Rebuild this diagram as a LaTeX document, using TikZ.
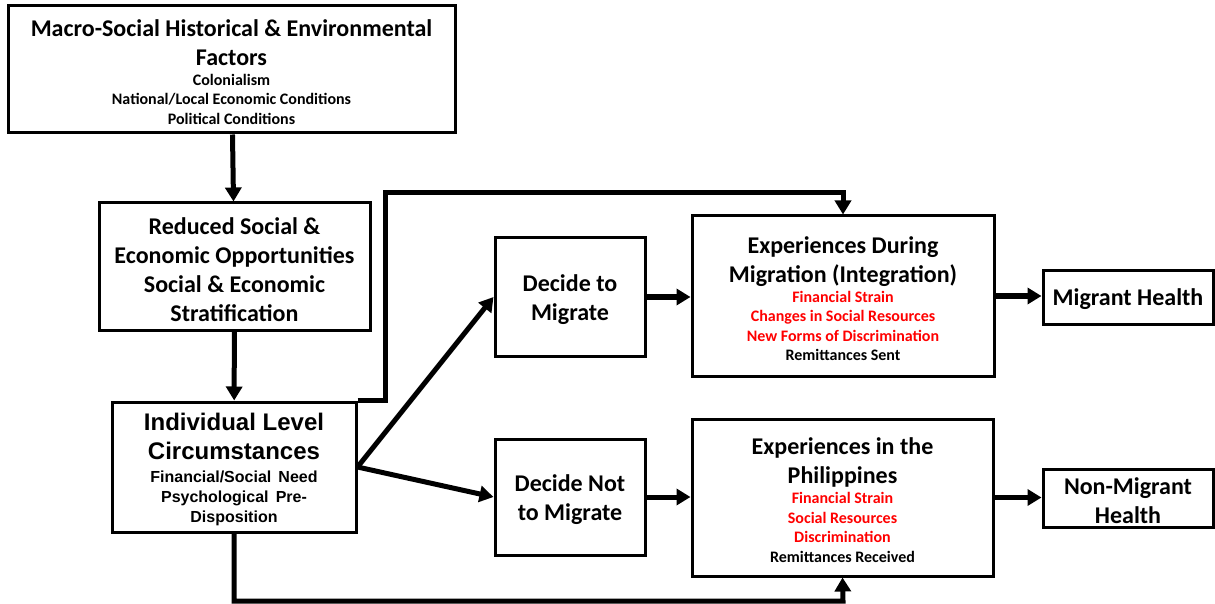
\documentclass[tikz,border=0pt]{standalone}
\usepackage{fontspec}
\setmainfont{Carlito}
\newfontfamily\arialfont{Liberation Sans}
\usetikzlibrary{arrows.meta}

\newcommand{\titlesize}{\fontsize{12}{14.5}\selectfont}
\newcommand{\itemsize}{\fontsize{8}{9.8}\selectfont}
\newcommand{\indtitlesize}{\fontsize{12}{14.5}\selectfont}
\newcommand{\inditemsize}{\fontsize{8}{10}\selectfont}

\begin{document}
\begin{tikzpicture}[x=0.5pt, y=-0.5pt,
	box/.style={draw, line width=1.5pt, align=flush center, inner sep=2pt, font=\bfseries,
		execute at end node={\endgraf\vspace*{-2.8pt}}},
	conn/.style={line width=2.5pt, -{Triangle[length=7pt,width=8pt]}}]
	\useasboundingbox (0,0) rectangle (1215,604);
	
	% left column
	\node[box, text width=219pt, minimum width=223.5pt, minimum height=63.5pt] (macro) at (231.5,69.5)
	{\titlesize Macro-Social Historical \& Environmental\\Factors\par
	 \itemsize Colonialism\\National/Local Economic Conditions\\Political Conditions\par};
	\node[box, text width=131pt, minimum width=135.5pt, minimum height=63.5pt] (reduced) at (234.5,266.5)
	{\titlesize Reduced Social \&\\Economic Opportunities\\Social \& Economic\\Stratification\par};
	\node[box, text width=118pt, minimum width=122pt, minimum height=65pt] (indiv) at (234,467)
	{\arialfont\indtitlesize Individual Level\\Circumstances\par\vspace{1.5pt}
	 \inditemsize Financial/Social\ \,Need\\Psychological\ \,Pre-\\Disposition\par};
	
	% decisions
	\node[box, text width=71pt, minimum width=75pt, minimum height=59pt] (decide) at (570,297)
	{\titlesize Decide to\\Migrate\par};
	\node[box, text width=71pt, minimum width=75pt, minimum height=58pt] (decnot) at (570,497)
	{\titlesize Decide Not\\to Migrate\par};
	
	% experiences
	\node[box, text width=147pt, minimum width=151pt, minimum height=80pt] (expmig) at (843,296)
	{\titlesize Experiences During\\Migration (Integration)\par
	 \itemsize\color{red}Financial Strain\\Changes in Social Resources\\New Forms of Discrimination\par
	 \color{black}Remittances Sent\par};
	\node[box, text width=146pt, minimum width=150.5pt, minimum height=78.5pt] (expphl) at (842.5,497.5)
	{\titlesize Experiences in the\\Philippines\par
	 \itemsize\color{red}Financial Strain\\Social Resources\\Discrimination\par
	 \color{black}Remittances Received\par};
	
	% outcomes
	\node[box, text width=81pt, minimum width=85pt, minimum height=26.5pt] (mighealth) at (1128,297.5)
	{\titlesize Migrant Health\par};
	\node[box, text width=81pt, minimum width=85pt, minimum height=29pt] (nonmig) at (1128,498)
	{\titlesize Non-Migrant\\Health\par};
	
	\coordinate (upbend) at (385,193);
	\coordinate (lowbend) at (843,601);
	
	\draw[conn] (macro) -- (reduced);
	\draw[conn] (reduced) -- (indiv);
	\draw[conn] (indiv.east) -- (decide.west);
	\draw[conn] (indiv.east) -- (decnot.west);
	\draw[conn] (indiv.north east) -| (upbend) -| (expmig.north);
	\draw[conn] (indiv.south) |- (lowbend) -- (expphl.south);
	\draw[conn] (decide) -- (expmig.west |- decide);
	\draw[conn] (decnot) -- (expphl.west |- decnot);
	\draw[conn] (expmig) -- (mighealth.west |- expmig);
	\draw[conn] (expphl) -- (nonmig.west |- expphl);
\end{tikzpicture}
\end{document}
